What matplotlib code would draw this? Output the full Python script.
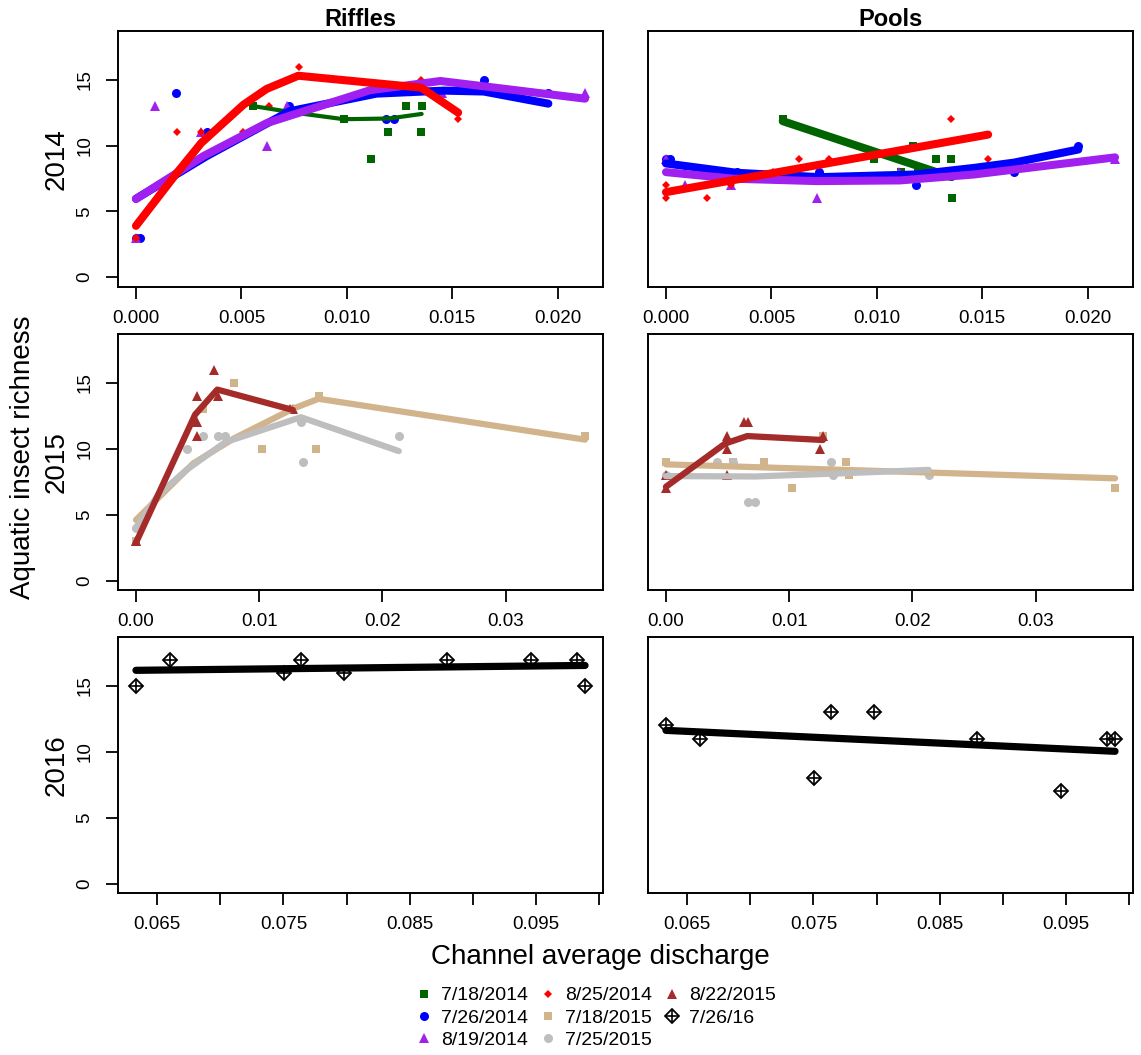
import matplotlib.pyplot as plt
from matplotlib.lines import Line2D
from matplotlib.ticker import FormatStrFormatter

plt.rcParams['font.family'] = ['Liberation Sans', 'DejaVu Sans']

# colores de R
GREEN = '#006400'
BLUE = '#0000FF'
PURPLE = '#A020F0'
RED = '#FF0000'
TAN = '#D2B48C'
GRAY = '#BEBEBE'
BROWN = '#A52A2A'

# ---- 2014 ----
q_0718_14 = [0.00554, 0.00985, 0.01115, 0.01172, 0.01194, 0.01280, 0.01351, 0.01355]
rif_0718_14 = [13, 12, 9, 14, 11, 13, 11, 13]
pool_0718_14 = [12, 9, 8, 10, 8, 9, 9, 6]

q_0726_14 = [0.0, 0.0002, 0.00188, 0.00336, 0.00728, 0.01184, 0.01226, 0.0165, 0.01956]
rif_0726_14 = [3, 3, 14, 11, 13, 12, 12, 15, 14]
pool_0726_14 = [9, 9, 8, 8, 8, 7, 8, 8, 10]

q_0819_14 = [0.0, 0.0009, 0.00309, 0.00622, 0.00716, 0.01105, 0.0145, 0.0213]
rif_0819_14 = [3, 13, 11, 10, 13, 14, 14, 14]
pool_0819_14 = [9, 7, 7, 8, 6, 8, 8, 9]

q_0825_14 = [0.0, 0.0, 0.00196, 0.00309, 0.0051, 0.00629, 0.00771, 0.01354, 0.01528]
rif_0825_14 = [3, 3, 11, 11, 11, 13, 16, 15, 12]
pool_0825_14 = [7, 6, 6, 7, 8, 9, 9, 12, 9]

# curvas ajustadas 2014
fit_rif_0718_14_x = [0.00554, 0.0075, 0.00985, 0.0120, 0.01355]
fit_rif_0718_14_y = [13.0, 12.5, 12.0, 12.05, 12.4]
fit_rif_0726_14_x = [0.0, 0.00336, 0.00728, 0.0114, 0.0146, 0.0165, 0.01956]
fit_rif_0726_14_y = [5.96, 9.2, 12.6, 13.94, 14.17, 14.1, 13.18]
fit_rif_0819_14_x = [0.0, 0.0032, 0.0062, 0.0111, 0.01444, 0.0213]
fit_rif_0819_14_y = [5.94, 9.2, 11.7, 14.2, 14.9, 13.56]
fit_rif_0825_14_x = [0.0, 0.00193, 0.0031, 0.0051, 0.0062, 0.0077, 0.01352, 0.01528]
fit_rif_0825_14_y = [3.9, 7.9, 10.2, 13.1, 14.3, 15.3, 14.4, 12.5]

fit_pool_0718_14_x = [0.00554, 0.01355]
fit_pool_0718_14_y = [11.85, 7.6]
fit_pool_0726_14_x = [0.0, 0.00336, 0.00728, 0.01184, 0.0146, 0.0165, 0.01956]
fit_pool_0726_14_y = [8.64, 7.93, 7.6, 7.8, 8.3, 8.7, 9.7]
fit_pool_0819_14_x = [0.0, 0.0032, 0.00716, 0.0111, 0.0146, 0.0213]
fit_pool_0819_14_y = [7.98, 7.48, 7.3, 7.35, 7.8, 9.1]
fit_pool_0825_14_x = [0.0, 0.01528]
fit_pool_0825_14_y = [6.46, 10.83]

# ---- 2015 ----
q_0718_15 = [0.0, 0.00547, 0.00797, 0.01022, 0.01274, 0.01461, 0.01482, 0.03645]
rif_0718_15 = [3, 13, 15, 10, 13, 10, 14, 11]
pool_0718_15 = [9, 9, 9, 7, 11, 9, 8, 7]

q_0725_15 = [0.0, 0.00417, 0.00547, 0.00669, 0.00724, 0.01339, 0.01352, 0.02133]
rif_0725_15 = [4, 10, 11, 11, 11, 12, 9, 11]
pool_0725_15 = [8, 9, 9, 6, 6, 9, 8, 8]

q_0822_15 = [0.0, 0.0, 0.00499, 0.00499, 0.00499, 0.00637, 0.00669, 0.0125, 0.01274]
rif_0822_15 = [3, 3, 14, 12, 11, 16, 14, 13, 13]
pool_0822_15 = [7, 8, 11, 10, 8, 12, 12, 10, 11]

fit_rif_0718_15_x = [0.0, 0.00466, 0.00797, 0.0128, 0.01482, 0.03645]
fit_rif_0718_15_y = [4.6, 8.9, 10.8, 13.07, 13.8, 10.7]
fit_rif_0725_15_x = [0.0, 0.0018, 0.0041, 0.00724, 0.01339, 0.02133]
fit_rif_0725_15_y = [4.0, 6.5, 8.4, 10.5, 12.4, 9.83]
fit_rif_0822_15_x = [0.0, 0.0048, 0.0066, 0.01274]
fit_rif_0822_15_y = [2.87, 12.6, 14.5, 12.95]

fit_pool_0718_15_x = [0.0, 0.03645]
fit_pool_0718_15_y = [8.82, 7.76]
fit_pool_0725_15_x = [0.0, 0.00724, 0.0142, 0.02133]
fit_pool_0725_15_y = [7.93, 7.9, 8.14, 8.4]
fit_pool_0822_15_x = [0.0, 0.0048, 0.0066, 0.01274]
fit_pool_0822_15_y = [7.12, 10.4, 10.97, 10.67]

# ---- 2016 ----
q_0726_16 = [0.06333, 0.06603, 0.07502, 0.07635, 0.07981, 0.08794, 0.09455, 0.09825, 0.09886]
rif_0726_16 = [15, 17, 16, 17, 16, 17, 17, 17, 15]
pool_0726_16 = [12, 11, 8, 13, 13, 11, 7, 11, 11]

fit_rif_0726_16_x = [0.06333, 0.09886]
fit_rif_0726_16_y = [16.19, 16.56]
fit_pool_0726_16_x = [0.06333, 0.09886]
fit_pool_0726_16_y = [11.63, 10.04]

legend_labels = ['7/18/2014', '7/26/2014', '8/19/2014', '8/25/2014',
                 '7/18/2015', '7/25/2015', '8/22/2015', '7/26/16']

W, H = 1141, 1055
fig = plt.figure(figsize=(W / 100, H / 100), dpi=100)


def new_ax(col, top):
    left = [118, 648][col]
    return fig.add_axes([left / W, 1 - (top + 256) / H, 485 / W, 256 / H])


def style_ax(ax, lo, hi, ticks, labels, fmt, left_col):
    r = hi - lo
    ax.set_xlim(lo - 0.04 * r, hi + 0.04 * r)
    ax.set_ylim(-0.72, 18.72)
    ax.set_xticks(ticks)
    if labels is None:
        ax.xaxis.set_major_formatter(FormatStrFormatter(fmt))
    else:
        ax.set_xticklabels(labels)
    ax.tick_params(axis='x', direction='out', length=8.5, width=1.3,
                   labelsize=13.5, pad=8)
    if left_col:
        ax.set_yticks([0, 5, 10, 15])
        ax.tick_params(axis='y', direction='out', length=8.5, width=1.3,
                       labelsize=13.5, pad=9, labelrotation=90)
        for t in ax.get_yticklabels():
            t.set_va('center')
    else:
        ax.set_yticks([])
    for s in ax.spines.values():
        s.set_linewidth(1.4)


def draw(ax, x, y, marker, color, ms, fx, fy, lw):
    ax.plot(x, y, ls='none', marker=marker, color=color, ms=ms,
            markeredgewidth=0, zorder=2)
    ax.plot(fx, fy, color=color, lw=lw, solid_capstyle='round',
            solid_joinstyle='round', zorder=3)


def draw16(ax, x, y, fx, fy):
    ax.plot(x, y, ls='none', marker='D', mfc='none', mec='black', ms=6.8,
            mew=1.3, zorder=2)
    ax.plot(x, y, ls='none', marker='+', color='black', ms=9, mew=1.2,
            zorder=2)
    ax.plot(fx, fy, color='black', lw=5.2, solid_capstyle='round', zorder=3)


# fila 2014
ticks14 = [0.0, 0.005, 0.010, 0.015, 0.020]
ax = new_ax(0, 30.7)
draw(ax, q_0718_14, rif_0718_14, 's', GREEN, 6.3, fit_rif_0718_14_x, fit_rif_0718_14_y, 3.0)
draw(ax, q_0726_14, rif_0726_14, 'o', BLUE, 6.5, fit_rif_0726_14_x, fit_rif_0726_14_y, 5.8)
draw(ax, q_0819_14, rif_0819_14, '^', PURPLE, 7.5, fit_rif_0819_14_x, fit_rif_0819_14_y, 5.8)
draw(ax, q_0825_14, rif_0825_14, 'D', RED, 3.8, fit_rif_0825_14_x, fit_rif_0825_14_y, 5.8)
style_ax(ax, 0.0, 0.0213, ticks14, None, '%.3f', True)
ax.set_title('Riffles', fontsize=17, fontweight='bold', pad=2)

ax = new_ax(1, 30.7)
draw(ax, q_0718_14, pool_0718_14, 's', GREEN, 6.3, fit_pool_0718_14_x, fit_pool_0718_14_y, 5.8)
draw(ax, q_0726_14, pool_0726_14, 'o', BLUE, 6.5, fit_pool_0726_14_x, fit_pool_0726_14_y, 5.8)
draw(ax, q_0819_14, pool_0819_14, '^', PURPLE, 7.5, fit_pool_0819_14_x, fit_pool_0819_14_y, 5.8)
draw(ax, q_0825_14, pool_0825_14, 'D', RED, 3.8, fit_pool_0825_14_x, fit_pool_0825_14_y, 5.8)
style_ax(ax, 0.0, 0.0213, ticks14, None, '%.3f', False)
ax.set_title('Pools', fontsize=17, fontweight='bold', pad=2)

# fila 2015
ticks15 = [0.0, 0.01, 0.02, 0.03]
ax = new_ax(0, 334)
draw(ax, q_0718_15, rif_0718_15, 's', TAN, 6.3, fit_rif_0718_15_x, fit_rif_0718_15_y, 4.5)
draw(ax, q_0725_15, rif_0725_15, 'o', GRAY, 6.5, fit_rif_0725_15_x, fit_rif_0725_15_y, 4.5)
draw(ax, q_0822_15, rif_0822_15, '^', BROWN, 7.5, fit_rif_0822_15_x, fit_rif_0822_15_y, 4.5)
style_ax(ax, 0.0, 0.03645, ticks15, None, '%.2f', True)

ax = new_ax(1, 334)
draw(ax, q_0718_15, pool_0718_15, 's', TAN, 6.3, fit_pool_0718_15_x, fit_pool_0718_15_y, 4.5)
draw(ax, q_0725_15, pool_0725_15, 'o', GRAY, 6.5, fit_pool_0725_15_x, fit_pool_0725_15_y, 4.5)
draw(ax, q_0822_15, pool_0822_15, '^', BROWN, 7.5, fit_pool_0822_15_x, fit_pool_0822_15_y, 4.5)
style_ax(ax, 0.0, 0.03645, ticks15, None, '%.2f', False)

# fila 2016
ticks16 = [0.065, 0.070, 0.075, 0.080, 0.085, 0.090, 0.095, 0.100]
labels16 = ['0.065', '', '0.075', '', '0.085', '', '0.095', '']
ax = new_ax(0, 637)
draw16(ax, q_0726_16, rif_0726_16, fit_rif_0726_16_x, fit_rif_0726_16_y)
style_ax(ax, 0.06333, 0.09886, ticks16, labels16, None, True)

ax = new_ax(1, 637)
draw16(ax, q_0726_16, pool_0726_16, fit_pool_0726_16_x, fit_pool_0726_16_y)
style_ax(ax, 0.06333, 0.09886, ticks16, labels16, None, False)

# textos
for yr, yc in zip(['2014', '2015', '2016'], [158.7, 462, 765]):
    fig.text(57 / W, 1 - yc / H, yr, rotation=90, fontsize=20,
             ha='center', va='center')
fig.text(23 / W, 1 - 457 / H, 'Aquatic insect richness', rotation=90,
         fontsize=20, ha='center', va='center')
fig.text(600 / W, 1 - 957 / H, 'Channel average discharge', fontsize=20,
         ha='center', va='center')

# leyenda
handles = [
    Line2D([], [], ls='none', marker='s', color=GREEN, ms=6.3, mew=0),
    Line2D([], [], ls='none', marker='o', color=BLUE, ms=6.5, mew=0),
    Line2D([], [], ls='none', marker='^', color=PURPLE, ms=7.5, mew=0),
    Line2D([], [], ls='none', marker='D', color=RED, ms=3.8, mew=0),
    Line2D([], [], ls='none', marker='s', color=TAN, ms=6.3, mew=0),
    Line2D([], [], ls='none', marker='o', color=GRAY, ms=6.5, mew=0),
    Line2D([], [], ls='none', marker='^', color=BROWN, ms=7.5, mew=0),
    (Line2D([], [], ls='none', marker='D', mfc='none', mec='black', ms=6.8, mew=1.3),
     Line2D([], [], ls='none', marker='+', color='black', ms=9, mew=1.2)),
]
fig.legend(handles, legend_labels, ncol=3, loc='center',
           bbox_to_anchor=(595 / W, 1 - 1018 / H), frameon=False,
           fontsize=14, handlelength=1.0, handletextpad=0.4,
           columnspacing=0.5, labelspacing=0.25, borderpad=0)

fig.savefig('out.png', dpi=100)
